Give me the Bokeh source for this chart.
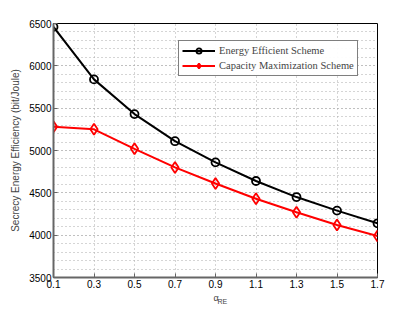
from bokeh.plotting import figure
from bokeh.embed import file_html
from bokeh.resources import INLINE
from bokeh.models import FixedTicker, Legend, LegendItem, Title, Range1d

alpha_re = [0.1, 0.3, 0.5, 0.7, 0.9, 1.1, 1.3, 1.5, 1.7]
energy_efficient = [6460, 5840, 5430, 5110, 4860, 4640, 4450, 4290, 4140]
capacity_max = [5280, 5250, 5020, 4800, 4610, 4430, 4270, 4120, 3990]
x_ticks = [0.1, 0.3, 0.5, 0.7, 0.9, 1.1, 1.3, 1.5, 1.7]
y_ticks = [3500, 4000, 4500, 5000, 5500, 6000, 6500]
y_minor = list(range(3500, 6501, 100))

p = figure(width=399, height=311, output_backend="svg", toolbar_location=None,
           x_range=Range1d(0.1, 1.7), y_range=Range1d(3500, 6500),
           min_border_left=53, min_border_right=22, min_border_top=23, min_border_bottom=34)

p.outline_line_color = "black"
p.outline_line_width = 1

for ax in (p.xaxis[0], p.yaxis[0]):
    ax.axis_line_color = "#666666"
    ax.axis_line_width = 2
    ax.major_tick_in = 4
    ax.major_tick_out = 0
    ax.minor_tick_in = 0
    ax.minor_tick_out = 0
    ax.major_label_text_font = "Liberation Sans"
    ax.major_label_text_font_size = "10px"
    ax.major_label_text_color = "black"
    ax.major_tick_line_color = "#666666"

p.xaxis.ticker = FixedTicker(ticks=x_ticks)
p.yaxis.ticker = FixedTicker(ticks=y_ticks, minor_ticks=y_minor)
p.xaxis.major_label_standoff = 2
p.yaxis.major_label_standoff = 2

p.yaxis.axis_label = "Secrecy Energy Efficiency (bit/Joule)"
p.yaxis.axis_label_text_font = "Liberation Sans"
p.yaxis.axis_label_text_font_style = "normal"
p.yaxis.axis_label_text_font_size = "10px"
p.yaxis.axis_label_standoff = 5

p.xgrid.ticker = FixedTicker(ticks=x_ticks)
p.xgrid.grid_line_color = "#aaaaaa"
p.xgrid.grid_line_dash = "1 3"
p.ygrid.grid_line_color = "#aaaaaa"
p.ygrid.grid_line_dash = "1 3"
p.ygrid.minor_grid_line_color = "#aaaaaa"
p.ygrid.minor_grid_line_dash = "1 3"

l1 = p.line(alpha_re, energy_efficient, line_color="black", line_width=2)
s1 = p.scatter(alpha_re, energy_efficient, marker="circle", size=8,
               line_color="black", fill_color=None, line_width=1.8)
l2 = p.line(alpha_re, capacity_max, line_color="red", line_width=2)
s2 = p.scatter(alpha_re, capacity_max, marker="diamond", size=11,
               line_color="red", fill_color=None, line_width=1.8)

legend = Legend(items=[LegendItem(label="Energy Efficient Scheme", renderers=[l1, s1]),
                       LegendItem(label="Capacity Maximization Scheme", renderers=[l2, s2])],
                location=(125, 201))
legend.label_text_font = "Liberation Serif"
legend.label_text_font_size = "10.5px"
legend.border_line_color = "black"
legend.border_line_width = 1
legend.glyph_width = 33
legend.glyph_height = 13
legend.label_height = 13
legend.spacing = 2
legend.padding = 3
legend.margin = 0
legend.label_standoff = 4
p.add_layout(legend, "center")

t_alpha = Title(text="α", align="left", offset=160, standoff=0, vertical_align="bottom",
                text_font="Liberation Sans", text_font_size="9px", text_font_style="normal")
t_sub = Title(text="RE", align="left", offset=164, standoff=-9, vertical_align="top",
              text_font="Liberation Sans", text_font_size="7px", text_font_style="normal")
p.add_layout(t_alpha, "below")
p.add_layout(t_sub, "below")

open("out.html", "w").write(file_html(p, INLINE))
